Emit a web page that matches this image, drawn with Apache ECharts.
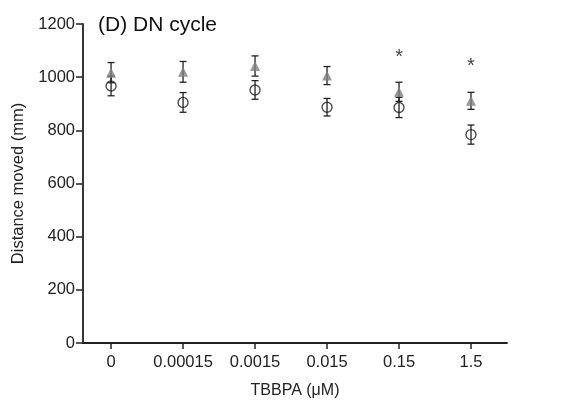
<!DOCTYPE html>
<html>
<head>
<meta charset="utf-8">
<script src="https://cdn.jsdelivr.net/npm/echarts@6/dist/echarts.min.js"></script>
<style>
  html, body { margin: 0; padding: 0; background: #fff; }
  #chart { width: 581px; height: 409px; }
</style>
</head>
<body>
<div id="chart"></div>
<script>
// TBBPA concentrations (µM), one group per position on the x axis
const categories = ['0', '0.00015', '0.0015', '0.015', '0.15', '1.5'];

// Mean distance moved (mm) and SEM, two groups
const circleMean = [967, 905, 952, 887, 886, 784];
const circleErr  = [37, 37, 35, 33, 38, 36];
const triMean    = [1017, 1020, 1042, 1006, 945, 911];
const triErr     = [38, 39, 38, 34, 36, 32];

// Significance markers (category index, y position)
const starIdx = [4, 5];
const starY   = [1092, 1058];

const yTicks = [0, 200, 400, 600, 800, 1000, 1200];

const font = 'Liberation Sans, Arial, sans-serif';
const axisColor = '#222';

function pts(vals) { return vals.map((v, i) => [i, v]); }
function errData(mean, err) { return mean.map((v, i) => [i, v - err[i], v + err[i]]); }

function errorBarSeries(mean, err, z) {
  return {
    type: 'custom',
    z: z,
    data: errData(mean, err),
    encode: { x: 0, y: [1, 2] },
    renderItem: function (params, api) {
      const x = api.value(0);
      const lo = api.coord([x, api.value(1)]);
      const hi = api.coord([x, api.value(2)]);
      const cap = 3.5;
      const style = { stroke: '#222', lineWidth: 1.3, fill: null };
      return {
        type: 'group',
        children: [
          { type: 'line', shape: { x1: lo[0], y1: lo[1], x2: hi[0], y2: hi[1] }, style: style },
          { type: 'line', shape: { x1: lo[0] - cap, y1: lo[1], x2: lo[0] + cap, y2: lo[1] }, style: style },
          { type: 'line', shape: { x1: hi[0] - cap, y1: hi[1], x2: hi[0] + cap, y2: hi[1] }, style: style }
        ]
      };
    }
  };
}

const chart = echarts.init(document.getElementById('chart'), null, { renderer: 'canvas' });

chart.setOption({
  animation: false,
  backgroundColor: '#fff',
  title: {
    text: '(D) DN cycle',
    left: 93, top: 10,
    textStyle: { fontFamily: font, fontSize: 21, fontWeight: 'normal', color: '#111' }
  },
  grid: { left: 83, top: 24, right: 74, bottom: 66, containLabel: false },
  xAxis: {
    type: 'value',
    min: -0.39, max: 5.5,
    name: 'TBBPA (\u03bcM)',
    nameLocation: 'middle',
    nameGap: 40,
    nameTextStyle: { fontFamily: font, fontSize: 16, color: '#222' },
    axisLine: { onZero: false, lineStyle: { color: axisColor, width: 1.8 } },
    axisTick: { show: true, length: 6, lineStyle: { color: axisColor, width: 1.5 },
                customValues: [0, 1, 2, 3, 4, 5] },
    axisLabel: {
      customValues: [0, 1, 2, 3, 4, 5],
      formatter: v => categories[Math.round(v)],
      fontFamily: font, fontSize: 16.5, color: '#222', margin: 11
    },
    splitLine: { show: false }
  },
  yAxis: {
    type: 'value',
    min: 0, max: 1200, interval: 200,
    name: 'Distance moved (mm)',
    nameLocation: 'middle',
    nameGap: 56,
    nameRotate: 90,
    nameTextStyle: { fontFamily: font, fontSize: 16.5, color: '#222' },
    axisLine: { show: true, onZero: false, lineStyle: { color: axisColor, width: 1.8 } },
    axisTick: { show: true, length: 7, lineStyle: { color: axisColor, width: 1.5 } },
    axisLabel: {
      formatter: v => (yTicks.indexOf(v) >= 0 ? String(v) : ''),
      fontFamily: font, fontSize: 16.5, color: '#222', margin: 8
    },
    splitLine: { show: false }
  },
  series: [
    errorBarSeries(circleMean, circleErr, 2),
    {
      type: 'scatter',
      z: 3,
      symbol: 'circle',
      symbolSize: 10,
      data: pts(circleMean),
      itemStyle: { color: 'rgba(255,255,255,0)', borderColor: '#222', borderWidth: 1.4 }
    },
    errorBarSeries(triMean, triErr, 4),
    {
      type: 'scatter',
      z: 5,
      symbol: 'triangle',
      symbolSize: [10, 10],
      data: pts(triMean),
      itemStyle: { color: '#808080' }
    },
    {
      type: 'scatter',
      z: 6,
      symbolSize: 0,
      data: starIdx.map((i, k) => [i, starY[k]]),
      label: {
        show: true, position: 'inside', formatter: '*', offset: [0, 5],
        fontFamily: font, fontSize: 20, color: '#111'
      }
    }
  ]
});
</script>
</body>
</html>
